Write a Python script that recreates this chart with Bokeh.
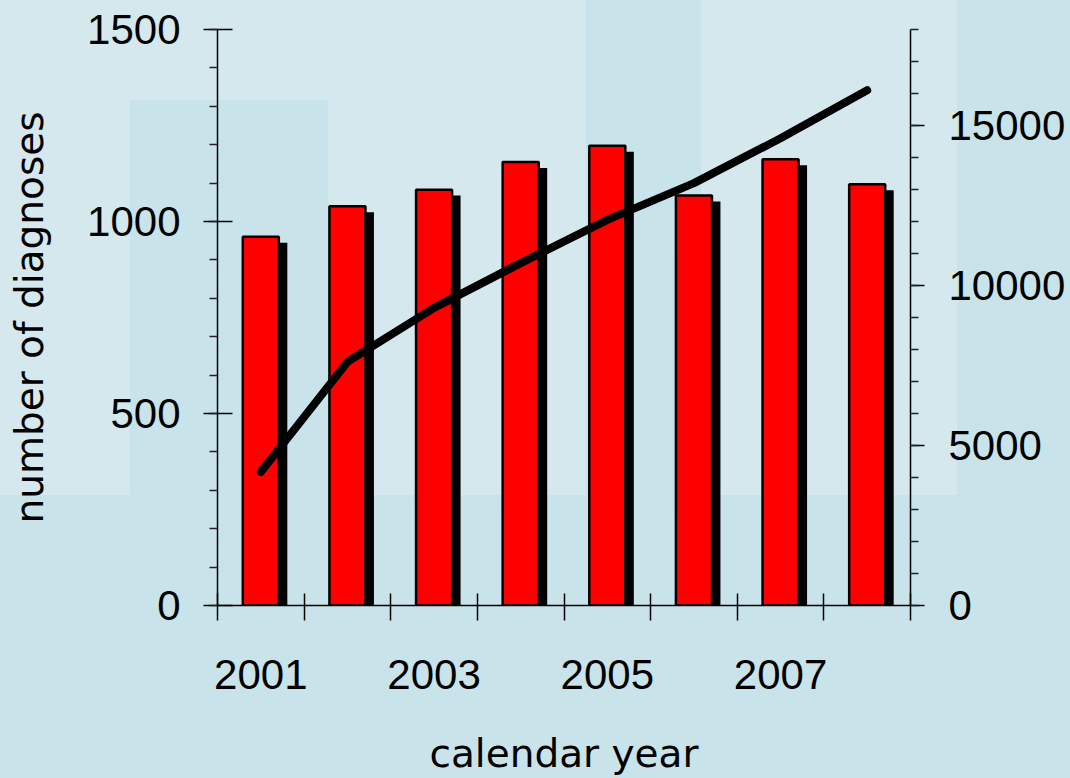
from bokeh.plotting import figure
from bokeh.models import (Range1d, LinearAxis, SingleIntervalTicker, FixedTicker,
                          NumeralTickFormatter, ColumnDataSource, GlobalInlineStyleSheet)
from bokeh.transform import dodge
from bokeh.embed import file_html
from bokeh.resources import INLINE

# ---- data ----
years = [2001, 2002, 2003, 2004, 2005, 2006, 2007, 2008]
diagnoses = [960, 1040, 1083, 1155, 1197, 1068, 1162, 1097]
cumulative = [4170, 7610, 9300, 10700, 12050, 13200, 14600, 16100]
x_label_years = [2001, 2003, 2005, 2007]

LIGHT = "#d4e8ee"
DARK = "#c9e3ea"

src = ColumnDataSource(dict(year=years, n=diagnoses, cum=cumulative))

p = figure(frame_width=693, frame_height=576,
           x_range=Range1d(2000.5, 2008.5), y_range=Range1d(0, 1500),
           min_border_left=217, min_border_right=160, min_border_top=29, min_border_bottom=173,
           output_backend="svg", toolbar_location=None,
           x_axis_location=None, y_axis_location=None)
p.extra_y_ranges = {"cum": Range1d(0, 18000)}
p.outline_line_color = None
p.background_fill_alpha = 0
p.border_fill_alpha = 0
p.xgrid.visible = False
p.ygrid.visible = False

grad = ", ".join(["linear-gradient(%s,%s)" % (LIGHT, LIGHT)] * 4)
p.styles = {
    "background-color": DARK,
    "background-image": grad,
    "background-size": "130px 495px, 198px 100px, 258px 495px, 256px 495px",
    "background-position": "0px 0px, 130px 0px, 328px 0px, 701px 0px",
    "background-repeat": "no-repeat",
}
p.stylesheets = [GlobalInlineStyleSheet(css="html,body{margin:0;padding:0;background:%s;overflow:hidden;}" % DARK)]


def style_axis(ax):
    ax.axis_line_color = "black"
    ax.axis_line_width = 1.5
    ax.major_tick_line_color = "black"
    ax.major_tick_line_width = 1.5
    ax.minor_tick_line_color = "#222222"
    ax.minor_tick_line_width = 1.5
    ax.major_label_text_font = "Liberation Sans"
    ax.major_label_text_font_size = "42px"
    ax.major_label_text_color = "black"
    ax.axis_label_text_font = "DejaVu Sans"
    ax.axis_label_text_font_size = "39px"
    ax.axis_label_text_font_style = "normal"
    ax.axis_label_text_color = "black"


yl = LinearAxis(ticker=SingleIntervalTicker(interval=500, num_minor_ticks=5),
                formatter=NumeralTickFormatter(format="0"),
                axis_label="number of diagnoses")
style_axis(yl)
yl.major_tick_in = 15
yl.major_tick_out = 14
yl.minor_tick_in = 0
yl.minor_tick_out = 8
yl.major_label_standoff = 23
yl.axis_label_standoff = 32
p.add_layout(yl, "left")

yr = LinearAxis(y_range_name="cum",
                ticker=SingleIntervalTicker(interval=5000, num_minor_ticks=5),
                formatter=NumeralTickFormatter(format="0"))
style_axis(yr)
yr.major_tick_in = 0
yr.major_tick_out = 14
yr.minor_tick_in = 0
yr.minor_tick_out = 8
yr.major_label_standoff = 24
p.add_layout(yr, "right")

boundaries = [y - 0.5 for y in years] + [years[-1] + 0.5]
xa = LinearAxis(ticker=FixedTicker(ticks=x_label_years, minor_ticks=boundaries),
                formatter=NumeralTickFormatter(format="0"),
                axis_label="calendar year")
style_axis(xa)
xa.major_tick_in = 0
xa.major_tick_out = 0
xa.minor_tick_in = 12
xa.minor_tick_out = 15
xa.minor_tick_line_color = "black"
xa.major_label_standoff = 39
xa.axis_label_standoff = 39
p.add_layout(xa, "below")

# shadow bars
p.vbar(x=dodge("year", 0.098), top=dodge("n", -15.6), bottom=0, width=0.416,
       source=src, fill_color="black", line_color=None)
# red bars
p.vbar(x="year", top="n", bottom=0, width=0.416, source=src,
       fill_color="#ff0000", line_color="black", line_width=2.5)
# cumulative line
p.line(x="year", y="cum", y_range_name="cum", source=src, line_color="black",
       line_width=8, line_cap="round", line_join="round")

open("out.html", "w").write(file_html(p, INLINE))
